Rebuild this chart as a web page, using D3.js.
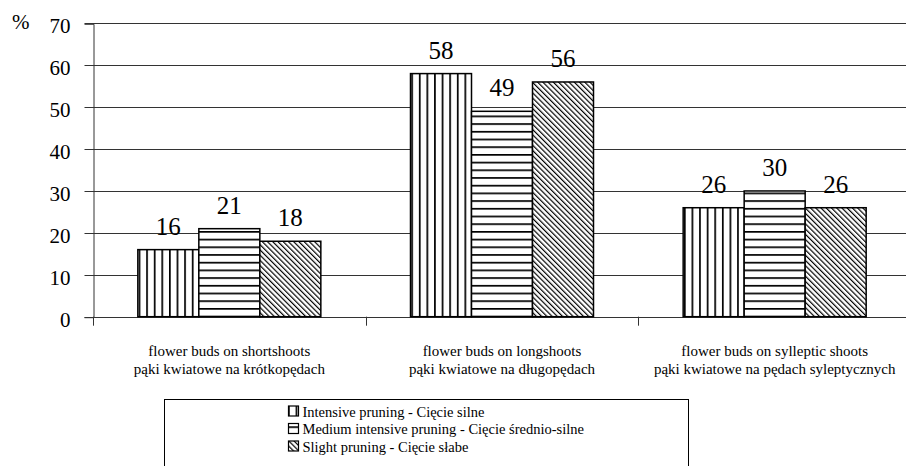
<!DOCTYPE html>
<html><head><meta charset="utf-8">
<script src="https://cdn.jsdelivr.net/npm/d3@7"></script>
</head><body style="margin:0"><svg id="c" width="906" height="466" font-family="Liberation Serif"></svg>
<script>
const categoriesEn = ["flower buds on shortshoots","flower buds on longshoots","flower buds on sylleptic shoots"];
const categoriesPl = ["pąki kwiatowe na krótkopędach","pąki kwiatowe na długopędach","pąki kwiatowe na pędach syleptycznych"];
const seriesNames = ["Intensive pruning - Cięcie silne","Medium intensive pruning - Cięcie średnio-silne","Slight pruning - Cięcie słabe"];
const intensive = [16,58,26];
const medium = [21,49,30];
const slight = [18,56,26];
const yTicks = [0,10,20,30,40,50,60,70];

const FONT = "Liberation Serif";
const seriesValues = [intensive, medium, slight];
const svg = d3.select("#c");
function T(sel){ return sel.attr("font-family",FONT).style("font-family","'Liberation Serif'"); }

const y = d3.scaleLinear().domain([0,70]).range([316.7,23.3]);
const x0 = d3.scaleBand().domain(d3.range(categoriesEn.length)).range([93,911]).paddingInner(0).paddingOuter(0);
const x1 = d3.scaleBand().domain(d3.range(seriesNames.length)).range([0,x0.bandwidth()]).paddingInner(0).paddingOuter(0.735);

T(svg.append("text").attr("x",12).attr("y",29).attr("font-size",21).text("%"));

const xg = svg.append("g");
T(xg.selectAll("text.c1").data(categoriesEn).join("text").attr("class","c1")
  .attr("x",(d,i)=>x0(i)+x0.bandwidth()/2).attr("y",355.5).attr("text-anchor","middle").attr("font-size",15).text(d=>d));
T(xg.selectAll("text.c2").data(categoriesPl).join("text").attr("class","c2")
  .attr("x",(d,i)=>x0(i)+x0.bandwidth()/2).attr("y",374).attr("text-anchor","middle").attr("font-size",15).text(d=>d));

const defs = svg.append("defs");
const pV = defs.append("pattern").attr("id","pV").attr("patternUnits","userSpaceOnUse").attr("width",7.6).attr("height",10);
pV.append("rect").attr("width",7.6).attr("height",10).attr("fill","#fff");
pV.append("rect").attr("x",0).attr("width",1.7).attr("height",10).attr("fill","#000");
const pH = defs.append("pattern").attr("id","pH").attr("patternUnits","userSpaceOnUse").attr("width",10).attr("height",7.7);
pH.append("rect").attr("width",10).attr("height",7.7).attr("fill","#fff");
pH.append("rect").attr("y",0).attr("width",10).attr("height",1.7).attr("fill","#000");
const pD = defs.append("pattern").attr("id","pD").attr("patternUnits","userSpaceOnUse").attr("width",3.7).attr("height",3.7).attr("patternTransform","rotate(-45)");
pD.append("rect").attr("width",3.7).attr("height",3.7).attr("fill","#fff");
pD.append("rect").attr("x",0).attr("width",1.2).attr("height",3.7).attr("fill","#000");
const fills = ["url(#pV)","url(#pH)","url(#pD)"];

svg.append("g").selectAll("line").data(yTicks.filter(d=>d>0)).join("line")
  .attr("x1",93).attr("x2",911).attr("y1",d=>Math.round(y(d))+0.5).attr("y2",d=>Math.round(y(d))+0.5)
  .attr("stroke","#333").attr("stroke-width",1);

const yAxis = svg.append("g").attr("transform","translate(93.5,0.5)")
  .call(d3.axisLeft(y).tickValues(yTicks).tickSize(9).tickPadding(14).tickFormat(d3.format("d")));
yAxis.attr("font-family",FONT).attr("font-size",21);
yAxis.select(".domain").attr("stroke","#333");
yAxis.selectAll(".tick line").attr("stroke","#333");
yAxis.selectAll(".tick").attr("transform",d=>`translate(0,${Math.round(y(d))})`);
T(yAxis.selectAll("text").attr("font-size",21).attr("dy","0.45em"));

const groups = svg.append("g").selectAll("g").data(categoriesEn).join("g")
  .attr("transform",(d,i)=>`translate(${x0(i)},0)`);
groups.selectAll("rect").data((d,i)=>seriesValues.map((s,j)=>({j,v:s[i]}))).join("rect")
  .attr("x",d=>x1(d.j)).attr("width",x1.bandwidth())
  .attr("y",d=>y(d.v)).attr("height",d=>y(0)-y(d.v))
  .attr("fill",d=>fills[d.j]).attr("stroke","#000").attr("stroke-width",1.5);
T(groups.selectAll("text.v").data((d,i)=>seriesValues.map((s,j)=>({j,v:s[i]}))).join("text")
  .attr("class","v").attr("x",d=>x1(d.j)+x1.bandwidth()/2).attr("y",d=>y(d.v)-15)
  .attr("text-anchor","middle").attr("font-size",25).text(d=>d.v));

xg.append("line").attr("x1",93).attr("x2",911).attr("y1",Math.round(y(0))+0.5).attr("y2",Math.round(y(0))+0.5).attr("stroke","#333");
xg.selectAll("line.t").data(d3.range(categoriesEn.length+1)).join("line").attr("class","t")
  .attr("x1",i=>Math.round(93+i*x0.step())+0.5).attr("x2",i=>Math.round(93+i*x0.step())+0.5)
  .attr("y1",y(0)).attr("y2",y(0)+9).attr("stroke","#333");

const lg = svg.append("g");
lg.append("rect").attr("x",164.5).attr("y",399.5).attr("width",524).attr("height",80).attr("fill","#fff").attr("stroke","#000").attr("stroke-width",1);
const li = lg.selectAll("g").data(seriesNames).join("g").attr("transform",(d,i)=>`translate(288,${416.5+i*17.5})`);
li.append("rect").attr("x",0.5).attr("y",-10.5).attr("width",10).attr("height",10).attr("fill",(d,i)=>fills[i]).attr("stroke","#000").attr("stroke-width",1.2);
T(li.append("text").attr("x",14.5).attr("y",0).attr("font-size",14.5).text(d=>d));
</script></body></html>
